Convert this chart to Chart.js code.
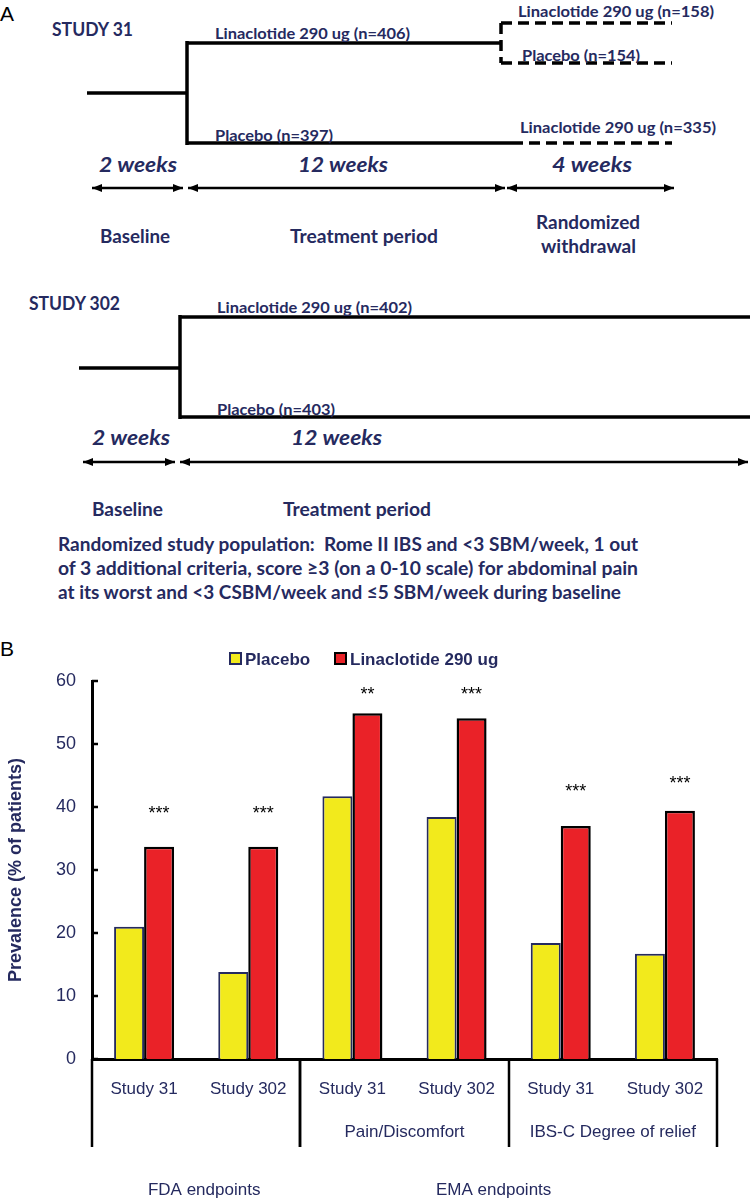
<!DOCTYPE html>
<html>
<head>
<meta charset="utf-8">
<script src="https://cdn.jsdelivr.net/npm/chart.js@4"></script>
<style>
  body { margin: 0; background: #fff; }
  #page { position: relative; width: 750px; height: 1201px; overflow: hidden; }
  #design { position: absolute; left: 0; top: 0; }
  #chartBox { position: absolute; left: 0; top: 600px; width: 750px; height: 601px; }
  .lab { font-family: Lato, "Open Sans", sans-serif; font-weight: 700; fill: #252a5f; white-space: pre; }
  .ln { stroke: #000; stroke-width: 3.5; fill: none; }
  .dash { stroke: #000; stroke-width: 3.5; fill: none; stroke-dasharray: 11 6; }
  .arr { stroke: #000; stroke-width: 2.5; fill: none; }
</style>
</head>
<body>
<div id="page">
<svg id="design" width="750" height="660" xmlns="http://www.w3.org/2000/svg">
  <defs>
    <marker id="head" viewBox="0 0 10 8" refX="10" refY="4" markerWidth="10" markerHeight="8"
            markerUnits="userSpaceOnUse" orient="auto-start-reverse">
      <path d="M0,0 L10,4 L0,8 z" fill="#000"/>
    </marker>
  </defs>

  <!-- panel letters -->
  <text x="0" y="21" font-family="Liberation Sans, Arial" font-size="21" fill="#000">A</text>
  <text x="0" y="656" font-family="Liberation Sans, Arial" font-size="21" fill="#000">B</text>

  <!-- STUDY 31 -->
  <text class="lab" x="52" y="36" font-size="18" textLength="81" lengthAdjust="spacingAndGlyphs">STUDY 31</text>
  <line class="ln" x1="87" y1="93" x2="187" y2="93"/>
  <line class="ln" x1="187" y1="41" x2="187" y2="145"/>
  <line class="ln" x1="187" y1="43" x2="501" y2="43"/>
  <line class="ln" x1="187" y1="143" x2="512" y2="143"/>
  <line class="dash" x1="501" y1="23" x2="501" y2="63"/>
  <line class="dash" x1="501" y1="23" x2="672" y2="23"/>
  <line class="dash" x1="501" y1="63" x2="672" y2="63"/>
  <line class="dash" x1="512" y1="143" x2="672" y2="143"/>

  <text class="lab" x="215" y="39" font-size="15" textLength="195" lengthAdjust="spacingAndGlyphs">Linaclotide 290 ug (n=406)</text>
  <text class="lab" x="215" y="141" font-size="15" textLength="118" lengthAdjust="spacingAndGlyphs">Placebo (n=397)</text>
  <text class="lab" x="518" y="17" font-size="15" textLength="196" lengthAdjust="spacingAndGlyphs">Linaclotide 290 ug (n=158)</text>
  <text class="lab" x="522" y="61" font-size="15" textLength="118" lengthAdjust="spacingAndGlyphs">Placebo (n=154)</text>
  <text class="lab" x="520" y="133" font-size="15" textLength="196" lengthAdjust="spacingAndGlyphs">Linaclotide 290 ug (n=335)</text>

  <text class="lab" x="99" y="172" font-size="20" font-style="italic" textLength="78" lengthAdjust="spacingAndGlyphs">2 weeks</text>
  <text class="lab" x="298" y="172" font-size="20" font-style="italic" textLength="90" lengthAdjust="spacingAndGlyphs">12 weeks</text>
  <text class="lab" x="552" y="172" font-size="20" font-style="italic" textLength="80" lengthAdjust="spacingAndGlyphs">4 weeks</text>

  <line class="arr" x1="92" y1="188" x2="183" y2="188" marker-start="url(#head)" marker-end="url(#head)"/>
  <line class="arr" x1="188" y1="188" x2="505" y2="188" marker-start="url(#head)" marker-end="url(#head)"/>
  <line class="arr" x1="507" y1="188" x2="674" y2="188" marker-start="url(#head)" marker-end="url(#head)"/>

  <text class="lab" x="100" y="243" font-size="18" textLength="70" lengthAdjust="spacingAndGlyphs">Baseline</text>
  <text class="lab" x="290" y="243" font-size="18" textLength="148" lengthAdjust="spacingAndGlyphs">Treatment period</text>
  <text class="lab" x="536" y="229" font-size="18" textLength="104" lengthAdjust="spacingAndGlyphs">Randomized</text>
  <text class="lab" x="541" y="253" font-size="18" textLength="95" lengthAdjust="spacingAndGlyphs">withdrawal</text>

  <!-- STUDY 302 -->
  <text class="lab" x="29" y="310" font-size="18" textLength="91" lengthAdjust="spacingAndGlyphs">STUDY 302</text>
  <line class="ln" x1="79" y1="368" x2="180" y2="368"/>
  <line class="ln" x1="180" y1="315" x2="180" y2="419"/>
  <line class="ln" x1="180" y1="317" x2="750" y2="317"/>
  <line class="ln" x1="180" y1="417" x2="750" y2="417"/>

  <text class="lab" x="217" y="313" font-size="15" textLength="195" lengthAdjust="spacingAndGlyphs">Linaclotide 290 ug (n=402)</text>
  <text class="lab" x="217" y="415" font-size="15" textLength="118" lengthAdjust="spacingAndGlyphs">Placebo (n=403)</text>

  <text class="lab" x="92" y="445" font-size="20" font-style="italic" textLength="78" lengthAdjust="spacingAndGlyphs">2 weeks</text>
  <text class="lab" x="291" y="445" font-size="20" font-style="italic" textLength="91" lengthAdjust="spacingAndGlyphs">12 weeks</text>

  <line class="arr" x1="83" y1="462" x2="175" y2="462" marker-start="url(#head)" marker-end="url(#head)"/>
  <line class="arr" x1="180" y1="462" x2="748" y2="462" marker-start="url(#head)" marker-end="url(#head)"/>

  <text class="lab" x="92" y="516" font-size="18" textLength="71" lengthAdjust="spacingAndGlyphs">Baseline</text>
  <text class="lab" x="283" y="516" font-size="18" textLength="148" lengthAdjust="spacingAndGlyphs">Treatment period</text>

  <text class="lab" x="58" y="551" font-size="19" textLength="580" lengthAdjust="spacingAndGlyphs">Randomized study population:&#160; Rome II IBS and &lt;3 SBM/week, 1 out</text>
  <text class="lab" x="58" y="575" font-size="19" textLength="580" lengthAdjust="spacingAndGlyphs">of 3 additional criteria, score ≥3 (on a 0-10 scale) for abdominal pain</text>
  <text class="lab" x="58" y="599" font-size="19" textLength="563" lengthAdjust="spacingAndGlyphs">at its worst and &lt;3 CSBM/week and ≤5 SBM/week during baseline</text>
</svg>

<div id="chartBox"><canvas id="myChart" width="750" height="601"></canvas></div>
</div>

<script>
/*=============== DATA ===============*/
const categories = ["Study 31", "Study 302", "Study 31", "Study 302", "Study 31", "Study 302"];
const placebo = [21.0, 13.8, 41.7, 38.4, 18.4, 16.7];
const linaclotide = [33.7, 33.7, 54.9, 54.1, 37.0, 39.4];
const seriesNames = ["Placebo", "Linaclotide 290 ug"];
const yTicks = [0, 10, 20, 30, 40, 50, 60];
const sigMarks = ["***", "***", "**", "***", "***", "***"];
const sigLevels = [39.5, 39.5, 58.4, 58.4, 43.0, 44.3];
// sub groups (second label row) and endpoint groups (third row), as category index ranges
const subGroups = [["", 0, 1], ["Pain/Discomfort", 2, 3], ["IBS-C Degree of relief", 4, 5]];
const endpointGroups = [["FDA endpoints", 0, 1], ["EMA endpoints", 2, 5]];

const navy = "#252a5f";
const yellow = "#f2ea1c";
const red = "#ea2228";

/*=============== EXTRA DRAWING ===============*/
const decor = {
  id: "decor",
  afterDraw(chart) {
    const { ctx, chartArea: a, scales: { x, y } } = chart;
    const step = x.width / categories.length;
    ctx.save();

    // inward y ticks
    ctx.strokeStyle = "#000";
    ctx.lineWidth = 2.5;
    yTicks.forEach((v) => {
      const py = Math.round(y.getPixelForValue(v));
      ctx.beginPath();
      ctx.moveTo(a.left, py);
      ctx.lineTo(a.left + 6, py);
      ctx.stroke();
    });

    // group dividers under the axis
    const lineBottom = a.bottom + 88;
    const edges = new Set();
    subGroups.forEach(([, from, to]) => {
      edges.add(x.getPixelForValue(from) - step / 2);
      edges.add(x.getPixelForValue(to) + step / 2);
    });
    ctx.lineWidth = 2.5;
    edges.forEach((px) => {
      ctx.beginPath();
      ctx.moveTo(Math.round(px), a.bottom);
      ctx.lineTo(Math.round(px), lineBottom);
      ctx.stroke();
    });

    // group labels
    ctx.fillStyle = navy;
    ctx.font = '17px "Liberation Sans", Arial';
    ctx.textAlign = "center";
    ctx.textBaseline = "middle";
    subGroups.forEach(([text, from, to]) => {
      const cx = (x.getPixelForValue(from) + x.getPixelForValue(to)) / 2;
      ctx.fillText(text, cx, a.bottom + 73);
    });
    const shift = [8, -15];
    endpointGroups.forEach(([text, from, to], i) => {
      const cx = (x.getPixelForValue(from) + x.getPixelForValue(to)) / 2 + shift[i];
      ctx.fillText(text, cx, a.bottom + 131);
    });

    // significance stars above the linaclotide bars
    const meta = chart.getDatasetMeta(1);
    ctx.fillStyle = "#000";
    ctx.font = '18px "Liberation Sans", Arial';
    sigMarks.forEach((m, i) => {
      ctx.fillText(m, meta.data[i].x, y.getPixelForValue(sigLevels[i]) + 4);
    });

    // legend
    const legendY = 60;
    const items = [[230, yellow, navy], [335, red, "#000"]];
    ctx.font = 'bold 17px "Liberation Sans", Arial';
    ctx.textAlign = "left";
    items.forEach(([lx, fill, stroke], i) => {
      ctx.fillStyle = fill;
      ctx.fillRect(lx, legendY - 7, 11, 11);
      ctx.strokeStyle = stroke;
      ctx.lineWidth = 2;
      ctx.strokeRect(lx, legendY - 7, 11, 11);
      ctx.fillStyle = navy;
      ctx.fillText(seriesNames[i], lx + 15, legendY);
    });
    ctx.restore();
  },
};

/*=============== CHART ===============*/
const ctx = document.getElementById("myChart").getContext("2d");
const myChart = new Chart(ctx, {
  type: "bar",
  data: {
    labels: categories,
    datasets: [
      {
        label: seriesNames[0],
        data: placebo,
        backgroundColor: yellow,
        borderColor: navy,
        borderWidth: 2,
      },
      {
        label: seriesNames[1],
        data: linaclotide,
        backgroundColor: red,
        borderColor: "#000",
        borderWidth: 2.5,
      },
    ],
  },
  options: {
    responsive: false,
    animation: false,
    devicePixelRatio: 1,
    layout: { padding: { top: 81, right: 33, bottom: 0, left: 0 } },
    plugins: {
      legend: { display: false },
      tooltip: { enabled: false },
    },
    datasets: { bar: { categoryPercentage: 0.576, barPercentage: 1 } },
    scales: {
      x: {
        grid: { display: false, drawTicks: false },
        border: { display: true, color: "#000", width: 3 },
        ticks: {
          color: navy,
          padding: 20,
          font: { family: '"Liberation Sans", Arial', size: 17 },
        },
        afterFit: (scale) => { scale.height = 142; },
      },
      y: {
        min: 0,
        max: 60,
        grid: { display: false, drawTicks: false },
        border: { display: true, color: "#000", width: 3 },
        ticks: {
          stepSize: 10,
          color: navy,
          padding: 16,
          font: { family: '"Liberation Sans", Arial', size: 18 },
        },
        title: {
          display: true,
          text: "Prevalence (% of patients)",
          color: navy,
          padding: { top: 5, bottom: 0 },
          font: { family: '"Liberation Sans", Arial', size: 18, weight: "bold" },
        },
        afterFit: (scale) => { scale.width = 92; },
      },
    },
  },
  plugins: [decor],
});
</script>
</body>
</html>
